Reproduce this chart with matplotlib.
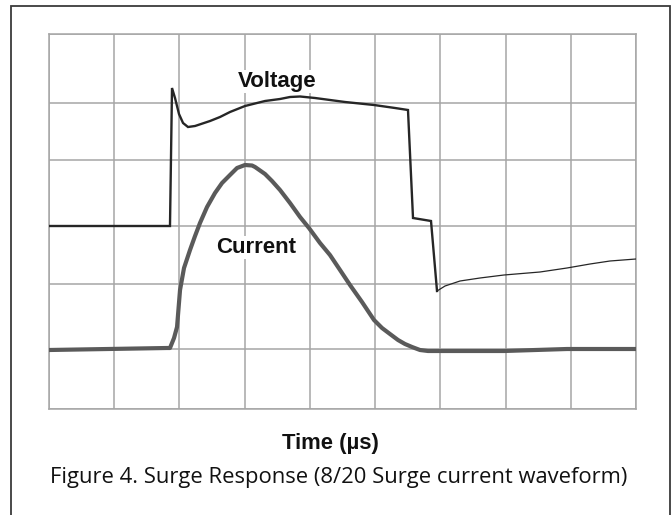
import matplotlib
matplotlib.use("Agg")
import matplotlib.pyplot as plt
from matplotlib.patches import Rectangle

# data, in grid divisions
voltage_t = [0, 1.855, 1.886, 1.932, 1.993, 2.055, 2.131, 2.239, 2.469, 2.622, 2.775, 3.005,
             3.312, 3.542, 3.695, 3.849, 4.079, 4.539, 4.983, 5.305, 5.504, 5.581, 5.857, 5.949]
voltage_v = [2.928, 2.928, 5.136, 4.976, 4.72, 4.576, 4.512, 4.528, 4.608, 4.672, 4.752, 4.848,
             4.928, 4.96, 4.992, 5.0, 4.976, 4.912, 4.864, 4.816, 4.784, 3.056, 3.008, 1.888]
tail_t = [5.949, 6.072, 6.302, 6.608, 6.976, 7.528, 7.942, 8.295, 8.601, 9.0]
tail_v = [1.888, 1.968, 2.048, 2.096, 2.144, 2.192, 2.256, 2.32, 2.368, 2.4]

current_t = [0, 1.809, 1.855, 1.917, 1.963, 2.009, 2.07, 2.162, 2.239, 2.315, 2.423, 2.545,
             2.653, 2.775, 2.883, 3.005, 3.113, 3.159, 3.312, 3.419, 3.542, 3.695, 3.849,
             3.986, 4.155, 4.308, 4.462, 4.615, 4.799, 4.983, 5.106, 5.228, 5.351, 5.458,
             5.566, 5.688, 5.811, 5.949, 6.455, 6.976, 7.942, 9.0]
current_i = [0.944, 0.976, 0.976, 1.136, 1.312, 1.904, 2.256, 2.544, 2.768, 2.976, 3.232, 3.456,
             3.616, 3.744, 3.856, 3.904, 3.896, 3.872, 3.76, 3.648, 3.504, 3.296, 3.072,
             2.896, 2.656, 2.464, 2.224, 1.984, 1.712, 1.424, 1.296, 1.2, 1.104, 1.04,
             0.992, 0.944, 0.928, 0.928, 0.928, 0.928, 0.96, 0.96]

x_grid = list(range(10))
y_grid = [0, 0.96, 2.0, 2.928, 3.984, 4.896, 6.0]

W, H = 672, 515
fig = plt.figure(figsize=(W / 100, H / 100), dpi=100)
ax = fig.add_axes([49 / W, 1 - 409 / H, (636 - 49) / W, (409 - 34) / H])

ax.plot(current_t, current_i, color="#5a5a5a", lw=3.0, solid_capstyle="round",
        solid_joinstyle="round", zorder=3)
ax.plot(voltage_t, voltage_v, color="#262626", lw=1.7, solid_joinstyle="miter", zorder=4)
ax.plot(tail_t, tail_v, color="#262626", lw=0.9, zorder=4)

ax.set_xlim(0, 9)
ax.set_ylim(0, 6)
ax.set_xticks(x_grid)
ax.set_yticks(y_grid)
ax.grid(True, color="#a6a6a6", lw=1.1)
ax.tick_params(length=0, labelbottom=False, labelleft=False)
for s in ax.spines.values():
    s.set_color("#a6a6a6")
    s.set_linewidth(1.1)

ax.text(3.496, 5.152, "Voltage", fontfamily="Liberation Sans", fontweight="bold",
        fontsize=16, ha="center", va="baseline", color="#111111", zorder=5,
        bbox=dict(facecolor="white", edgecolor="none", pad=1))
ax.text(3.18, 2.496, "Current", fontfamily="Liberation Sans", fontweight="bold",
        fontsize=16, ha="center", va="baseline", color="#111111", zorder=5,
        bbox=dict(facecolor="white", edgecolor="none", pad=1))

fig.text(330.5 / W, 1 - 449 / H, "Time (µs)", fontfamily="Liberation Sans",
         fontweight="bold", fontsize=15.8, ha="center", va="baseline", color="#111111")
fig.text(338.5 / W, 1 - 483 / H, "Figure 4. Surge Response (8/20 Surge current waveform)",
         fontfamily="Open Sans", fontsize=15.8, ha="center", va="baseline", color="#111111")

fig.patches.append(Rectangle((10.5 / W, -0.05), 659.5 / W, 1.05 - 6.5 / H,
                             transform=fig.transFigure, fill=False,
                             edgecolor="#3a3a3a", lw=1.3))

fig.savefig("out.png", dpi=100)
